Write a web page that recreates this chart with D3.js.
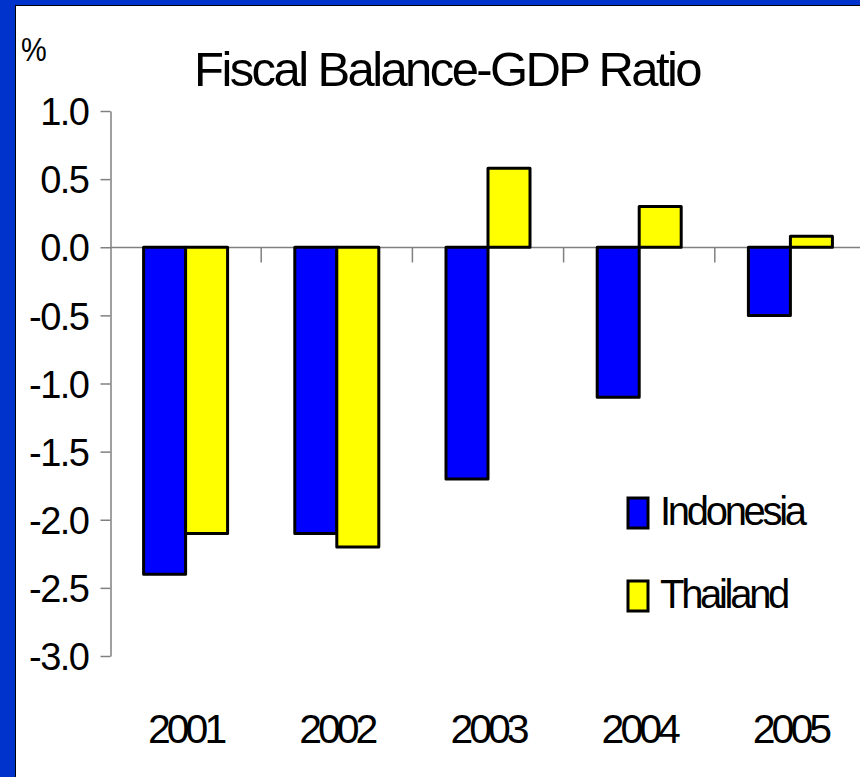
<!DOCTYPE html>
<html>
<head>
<meta charset="utf-8">
<script src="https://cdn.jsdelivr.net/npm/d3@7"></script>
<style>
  html, body { margin: 0; padding: 0; background: #fff; }
  svg { display: block; }
  text { font-family: "Liberation Sans", Arial, sans-serif; fill: #000; }
</style>
</head>
<body>
<svg id="chart" width="860" height="777"></svg>
<script>
const years = ["2001", "2002", "2003", "2004", "2005"];
const seriesNames = ["Indonesia", "Thailand"];
const indonesia = [-2.4, -2.1, -1.7, -1.1, -0.5];
const thailand = [-2.1, -2.2, 0.58, 0.3, 0.08];
const yTicks = [1.0, 0.5, 0.0, -0.5, -1.0, -1.5, -2.0, -2.5, -3.0];
const seriesColors = ["#0000ff", "#ffff00"];
const titleText = "Fiscal Balance-GDP Ratio";
const unitText = "%";

const svg = d3.select("#chart");
const W = 860, H = 777;

// frame
svg.append("rect").attr("x", 0).attr("y", 0).attr("width", W).attr("height", H).attr("fill", "#0033cc");
svg.append("rect").attr("x", 15).attr("y", 5).attr("width", W - 15).attr("height", H - 5).attr("fill", "#fff");
svg.append("line").attr("x1", 15.5).attr("x2", 15.5).attr("y1", 5).attr("y2", H).attr("stroke", "#000").attr("stroke-width", 1);
svg.append("line").attr("x1", 15).attr("x2", W).attr("y1", 5.5).attr("y2", 5.5).attr("stroke", "#000").attr("stroke-width", 1);

const x = d3.scaleBand().domain(years).range([110, 866]).paddingInner(0).paddingOuter(0);
const y = d3.scaleLinear().domain([-3, 1]).range([656, 111]);
const inner = d3.scaleBand().domain(seriesNames).range([0, 84]);

// title
svg.append("text").attr("x", 447).attr("y", 86).attr("text-anchor", "middle")
  .attr("font-size", 49).attr("letter-spacing", -2.6).text(titleText);
svg.append("text").attr("x", 21).attr("y", 61).attr("font-size", 34).attr("letter-spacing", -2)
  .attr("transform", "translate(21,61) scale(0.85,1) translate(-21,-61)").text(unitText);

// y axis
const yAxis = d3.axisLeft(y).tickValues(yTicks).tickSize(10).tickSizeOuter(0)
  .tickFormat(d3.format(".1f"));
const gy = svg.append("g").attr("transform", "translate(110.5,0)").call(yAxis);
gy.select(".domain").attr("stroke", "#808080").attr("stroke-width", 1.5);
gy.selectAll(".tick line").attr("stroke", "#808080").attr("stroke-width", 1.5);
gy.selectAll(".tick text").attr("x", -22).attr("dy", "0.36em")
  .attr("font-size", 38).attr("letter-spacing", -1.5)
  .attr("font-family", "'Liberation Sans', Arial, sans-serif").attr("fill", "#000")
  .text(d => d3.format(".1f")(d).replace("−", "-"));

// zero line with category ticks
const y0 = Math.round(y(0)) + 0.5;
svg.append("line").attr("x1", 110).attr("x2", W).attr("y1", y0).attr("y2", y0)
  .attr("stroke", "#808080").attr("stroke-width", 1.5);
svg.append("g").selectAll("line").data(years.slice(1)).join("line")
  .attr("x1", d => x(d)).attr("x2", d => x(d))
  .attr("y1", y0).attr("y2", y0 + 15)
  .attr("stroke", "#808080").attr("stroke-width", 1.5);

// bars
const rows = years.map((yr, i) => ({ year: yr, values: [indonesia[i], thailand[i]] }));
const groups = svg.append("g").selectAll("g").data(rows).join("g")
  .attr("transform", d => `translate(${x(d.year) + (x.bandwidth() - 84) / 2},0)`);
groups.selectAll("rect").data(d => d.values.map((v, j) => ({ name: seriesNames[j], v, j })))
  .join("rect")
  .attr("x", d => inner(d.name))
  .attr("width", inner.bandwidth())
  .attr("y", d => y(Math.max(0, d.v)))
  .attr("height", d => Math.abs(y(d.v) - y(0)))
  .attr("fill", d => seriesColors[d.j])
  .attr("stroke", "#000").attr("stroke-width", 3).attr("stroke-linejoin", "round");

// x labels
svg.append("g").selectAll("text").data(years).join("text")
  .attr("x", d => x(d) + x.bandwidth() / 2).attr("y", 743)
  .attr("text-anchor", "middle").attr("font-size", 41).attr("letter-spacing", -4)
  .text(d => d);

// legend
const legend = svg.append("g").selectAll("g").data(seriesNames).join("g")
  .attr("transform", (d, i) => `translate(628,${498 + i * 83})`);
legend.append("rect").attr("width", 20).attr("height", 30)
  .attr("fill", (d, i) => seriesColors[i]).attr("stroke", "#000").attr("stroke-width", 3);
legend.append("text").attr("x", 32).attr("y", 27).attr("font-size", 40).attr("letter-spacing", -3.3)
  .text(d => d);
</script>
</body>
</html>
